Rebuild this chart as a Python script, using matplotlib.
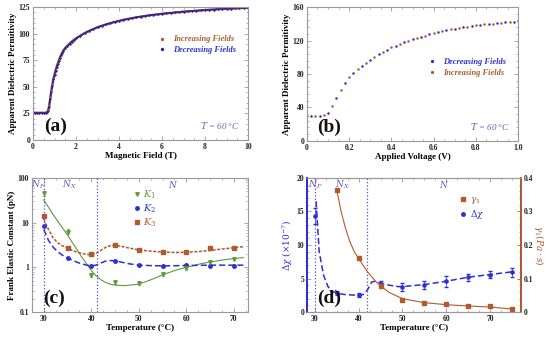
import numpy as np
import matplotlib
matplotlib.use("Agg")
import matplotlib.pyplot as plt
from matplotlib.ticker import AutoMinorLocator, LogLocator, NullFormatter

plt.rcParams['font.family'] = ['Liberation Serif', 'DejaVu Serif']
plt.rcParams['mathtext.fontset'] = 'dejavuserif'

BLUE = '#2f2fd0'
BROWN = '#b05a2e'
GREEN = '#5c9a3c'
PURPLE = '#6e55b8'
VLINE = '#5a4bc4'
GRAY = '#9a9a9a'

# (a) permittivity vs magnetic field
field_a = [0, 0.1, 0.2, 0.3, 0.4, 0.5, 0.6,
           0.65, 0.7, 0.75, 0.8, 0.85, 0.9, 0.95, 1.0, 1.05, 1.1, 1.15, 1.2, 1.25, 1.3, 1.35, 1.4,
           1.5, 1.6, 1.7, 1.8, 1.9, 2.0,
           2.2, 2.4, 2.6, 2.8, 3.0, 3.2, 3.4, 3.6, 3.8, 4.0, 4.2, 4.4, 4.6, 4.8, 5.0,
           5.2, 5.4, 5.6, 5.8, 6.0, 6.2, 6.4, 6.6, 6.8, 7.0, 7.2, 7.4, 7.6, 7.8, 8.0,
           8.2, 8.4, 8.6, 8.8, 9.0, 9.2, 9.4, 9.6, 9.8, 10.0]
eps_inc = [25.5, 25.5, 25.5, 25.5, 25.5, 25.5, 25.5,
           26, 28, 33, 40, 47, 53, 58, 62, 66, 69, 72, 75, 77.5, 80, 82, 84,
           86.5, 88.5, 90.5, 92.5, 94, 95.5,
           98, 100.5, 102.5, 104.3, 106, 107.4, 108.7, 109.9, 111, 112, 113, 113.8, 114.6, 115.3, 116,
           116.6, 117.2, 117.7, 118.2, 118.7, 119.1, 119.5, 119.9, 120.3, 120.7, 121, 121.3, 121.6, 121.9, 122.2,
           122.5, 122.7, 123.0, 123.2, 123.4, 123.6, 123.8, 124.0, 124.2, 124.4]
eps_dec = [25.5, 25.5, 25.5, 25.5, 25.5, 25.5, 25.5,
           25.8, 27, 31, 38, 45, 51, 57, 61, 65, 68.5, 71.5, 74.5, 77, 79.5, 81.5, 83.5,
           86.5, 88.5, 90.5, 92.5, 94, 95.5,
           98, 100.5, 102.5, 104.3, 106, 107.4, 108.7, 109.9, 111, 112, 113, 113.8, 114.6, 115.3, 116,
           116.6, 117.2, 117.7, 118.2, 118.7, 119.1, 119.5, 119.9, 120.3, 120.7, 121, 121.3, 121.6, 121.9, 122.2,
           122.5, 122.7, 123.0, 123.2, 123.4, 123.6, 123.8, 124.0, 124.2, 124.4]

# (b) permittivity vs applied voltage
volt_inc = [0.00, 0.04, 0.08, 0.12, 0.16, 0.20, 0.24, 0.28, 0.32, 0.36, 0.40, 0.44, 0.48,
            0.52, 0.56, 0.60, 0.64, 0.68, 0.72, 0.76, 0.80, 0.84, 0.88, 0.92, 0.96, 1.00]
perm_inc = [29.5, 30, 30.5, 42, 61, 76, 86, 93, 100, 106.5, 112, 116, 120,
            123, 126, 129, 131.2, 133.3, 135.1, 136.6, 138, 139.2, 140.3, 141.3, 142.1, 143]
volt_dec = [0.02, 0.06, 0.10, 0.14, 0.18, 0.22, 0.26, 0.30, 0.34, 0.38, 0.42, 0.46, 0.50,
            0.54, 0.58, 0.62, 0.66, 0.70, 0.74, 0.78, 0.82, 0.86, 0.90, 0.94, 0.98]
perm_dec = [30, 30, 33, 51, 69, 81, 89, 97, 103.5, 109, 114, 118, 121.5,
            124.5, 127.5, 130, 132.3, 134.3, 135.9, 137.3, 138.6, 139.8, 140.8, 141.7, 142.5]

# (c) Frank elastic constants
temp_c = [30, 35, 40, 45, 50, 55, 60, 65, 70]
k1 = [46, 6.3, 0.67, 0.46, 0.44, 0.72, 0.96, 1.3, 1.55]
k1_err = [6, 0.8, 0.06, 0.04, 0.03, 0.08, 0.1, 0.1, 0.1]
k2 = [8.5, 1.6, 1.1, 1.4, 1.15, 1.1, 1.12, 1.1, 1.08]
k3 = [14.4, 2.7, 1.95, 3.1, 2.45, 2.2, 2.2, 2.75, 2.7]

fit_t1 = [30, 31, 32, 33, 34, 35, 36, 37, 38, 39, 40, 41, 42, 43, 44, 45, 47, 50, 53, 55, 58, 60, 63, 65, 68, 70, 72]
k1_fit = [32, 22, 15, 10.5, 7.5, 5.3, 3.6, 2.5, 1.7, 1.2, 0.85, 0.65, 0.53, 0.46, 0.42, 0.40, 0.39, 0.42,
          0.55, 0.68, 0.88, 1.0, 1.2, 1.32, 1.48, 1.57, 1.65]
fit_t2 = [30, 31, 32, 33, 34, 35, 36, 37, 38, 39, 40, 41, 42, 43, 44, 45, 46, 48, 50, 53, 55, 58, 60, 63, 65, 68, 70, 72]
k2_fit = [7, 4, 2.8, 2.2, 1.85, 1.6, 1.45, 1.3, 1.2, 1.12, 1.08, 1.12, 1.25, 1.38, 1.42, 1.4, 1.33, 1.2,
          1.12, 1.09, 1.08, 1.09, 1.1, 1.11, 1.12, 1.12, 1.12, 1.12]
k3_fit = [12, 7, 4.5, 3.5, 3.0, 2.7, 2.4, 2.2, 2.05, 1.95, 1.92, 2.05, 2.4, 2.8, 3.05, 3.1, 3.0, 2.7,
          2.45, 2.28, 2.2, 2.15, 2.18, 2.27, 2.4, 2.6, 2.75, 2.9]

# (d) anisotropy and viscosity
temp_d = [30, 35, 40, 45, 50, 55, 60, 65, 70, 75]
dchi = [14.3, 2.9, 2.5, 4.2, 3.7, 4.1, 4.6, 5.2, 5.6, 5.9]
dchi_err = [1.2, 0.3, 0.3, 0.5, 0.6, 0.6, 0.8, 0.5, 0.5, 0.6]
temp_g = [35, 40, 45, 50, 55, 60, 65, 70, 75]
gamma1 = [0.365, 0.161, 0.078, 0.037, 0.028, 0.023, 0.019, 0.019, 0.009]

fit_td = [30.3, 31, 32, 33, 34, 35, 37, 40, 41, 42, 43, 44, 45, 47, 49, 50, 55, 60, 65, 70, 75]
dchi_fit = [16.5, 9, 5.5, 3.8, 3.1, 2.8, 2.6, 2.5, 2.6, 3.3, 4.5, 4.6, 4.3, 4.0, 3.8, 3.8, 4.1, 4.6, 5.2, 5.6, 6.0]
fit_tg = [35, 36, 37, 38, 39, 40, 42, 44, 45, 47, 50, 55, 60, 65, 70, 75]
gamma_fit = [0.365, 0.30, 0.25, 0.21, 0.18, 0.16, 0.12, 0.09, 0.078, 0.058, 0.04, 0.028, 0.022, 0.018, 0.015, 0.009]


def style(ax, log=False):
    for s in ax.spines.values():
        s.set_color(GRAY)
        s.set_linewidth(0.8)
    ax.tick_params(which='both', direction='in', top=True, right=True, colors=GRAY,
                   labelcolor='#222222', labelsize=5.5, pad=2)
    ax.tick_params(which='major', length=3, width=0.6)
    ax.tick_params(which='minor', length=1.6, width=0.5)
    ax.xaxis.set_minor_locator(AutoMinorLocator(4))
    if not log:
        ax.yaxis.set_minor_locator(AutoMinorLocator(5))
    for lb in ax.get_xticklabels() + ax.get_yticklabels():
        lb.set_fontweight('bold')


def letter(ax, s):
    ax.text(0.05, 0.04, s, transform=ax.transAxes, fontsize=14, fontweight='bold',
            ha='left', va='bottom', color='#111111')


lab = dict(fontsize=6.5, fontweight='bold', labelpad=1)

fig = plt.figure(figsize=(5.5, 3.37), dpi=100)

# ---- (a)
ax = fig.add_axes([0.060, 0.585, 0.391, 0.394])
ax.plot(field_a, eps_inc, '-', lw=1.6, color=BROWN, alpha=0.8)
ax.plot(field_a, eps_dec, '-', lw=1.3, color='#2a1f9a')
ax.plot(field_a, eps_inc, 'o', ms=1.6, color=BROWN, mew=0, label='Increasing Fields')
ax.plot(field_a, eps_dec, 'o', ms=1.6, color='#2a1f9a', mew=0, label='Decreasing Fields')
ax.set_xlim(0, 10)
ax.set_ylim(0, 125)
ax.set_xticks([0, 2, 4, 6, 8, 10])
ax.set_yticks([0, 25, 50, 75, 100, 125])
style(ax)
ax.set_xlabel('Magnetic Field (T)', **lab)
ax.set_ylabel('Apparent Dielectric Permitivity', **lab)
leg = ax.legend(loc='upper right', bbox_to_anchor=(0.97, 0.83), frameon=False, fontsize=6,
                handletextpad=0.3, markerscale=1.5, borderpad=0.2, labelspacing=0.3)
for t, c in zip(leg.get_texts(), [BROWN, BLUE]):
    t.set_color(c)
    t.set_fontstyle('italic')
    t.set_fontweight('bold')
ax.text(0.96, 0.07, r'$T$ = 60 °C', transform=ax.transAxes, fontsize=6.5, style='italic',
        color=PURPLE, ha='right', va='bottom')
letter(ax, '(a)')

# ---- (b)
ax = fig.add_axes([0.558, 0.582, 0.384, 0.397])
ax.plot(volt_dec, perm_dec, 'o', ms=1.8, color=BLUE, mew=0, label='Decreasing Fields')
ax.plot(volt_inc, perm_inc, 'o', ms=1.8, color=BROWN, mew=0, label='Increasing Fields')
ax.set_xlim(0, 1)
ax.set_ylim(0, 160)
ax.set_xticks([0, 0.2, 0.4, 0.6, 0.8, 1.0])
ax.set_xticklabels(['0', '0.2', '0.4', '0.6', '0.8', '1.0'])
ax.set_yticks([0, 40, 80, 120, 160])
style(ax)
ax.set_xlabel('Applied Voltage (V)', **lab)
ax.set_ylabel('Apparent Dielectric Permitivity', **lab)
leg = ax.legend(loc='upper right', bbox_to_anchor=(0.97, 0.66), frameon=False, fontsize=6,
                handletextpad=0.3, markerscale=1.3, borderpad=0.2, labelspacing=0.3)
for t, c in zip(leg.get_texts(), [BLUE, BROWN]):
    t.set_color(c)
    t.set_fontstyle('italic')
    t.set_fontweight('bold')
ax.text(0.96, 0.07, r'$T$ = 60 °C', transform=ax.transAxes, fontsize=6.5, style='italic',
        color=PURPLE, ha='right', va='bottom')
letter(ax, '(b)')

# ---- (c)
ax = fig.add_axes([0.058, 0.074, 0.393, 0.398])
ax.set_yscale('log')
ax.plot(fit_t1, k1_fit, '-', color=GREEN, lw=0.8)
ax.plot(fit_t2, k2_fit, '--', color=BLUE, lw=1.1, dashes=(4, 2))
ax.plot(fit_t2, k3_fit, '--', color=BROWN, lw=1.1, dashes=(2, 1))
e1 = ax.errorbar(temp_c, k1, yerr=k1_err, fmt='v', ms=2.5, color=GREEN, elinewidth=0.5, capsize=1)
m2 = ax.plot(temp_c, k2, 'o', ms=2.5, color=BLUE)[0]
m3 = ax.plot(temp_c, k3, 's', ms=2.5, color=BROWN)[0]
ax.axvline(30, color=VLINE, ls=':', lw=0.9)
ax.axvline(41.2, color=VLINE, ls=':', lw=0.9)
ax.set_xlim(27.5, 73)
ax.set_ylim(0.1, 100)
ax.set_xticks([30, 40, 50, 60, 70])
ax.yaxis.set_minor_locator(LogLocator(subs=np.arange(2, 10)))
ax.yaxis.set_minor_formatter(NullFormatter())
ax.set_yticks([0.1, 1, 10, 100])
ax.set_yticklabels(['0.1', '1', '10', '100'])
style(ax, log=True)
ax.set_xlabel('Temperature (°C)', **lab)
ax.set_ylabel('Frank Elastic Constant (pN)', **lab)
h1 = ax.plot([], [], 'v', ms=2.5, color=GREEN)[0]
leg = ax.legend(handles=[h1, m2, m3], labels=['$K_1$', '$K_2$', '$K_3$'],
                loc='upper left', bbox_to_anchor=(0.43, 0.97), frameon=False, fontsize=7,
                handletextpad=0.2, borderpad=0.2, labelspacing=0.15, handlelength=1.0)
for t, c in zip(leg.get_texts(), [GREEN, BLUE, BROWN]):
    t.set_color(c)
for name, xp in [('$N_F$', 28.9), ('$N_X$', 35.5), ('$N$', 57.2)]:
    ax.text(xp, 70, name, color=PURPLE, fontsize=6.5, ha='center', va='center')
letter(ax, '(c)')

# ---- (d)
ax = fig.add_axes([0.558, 0.074, 0.389, 0.398])
ax2 = ax.twinx()
ax.plot(fit_td, dchi_fit, '--', color=BLUE, lw=1.1, dashes=(4, 2))
ax.errorbar(temp_d, dchi, yerr=dchi_err, fmt='o', ms=2.3, color=BLUE, elinewidth=0.5, capsize=1.2)
ax2.plot(fit_tg, gamma_fit, '-', color=BROWN, lw=0.8)
ax2.plot(temp_g, gamma1, 's', ms=2.5, color=BROWN)
ax.axvline(30, color=VLINE, ls=':', lw=0.9)
ax.axvline(42, color=VLINE, ls=':', lw=0.9)
ax.set_xlim(28.2, 77)
ax.set_ylim(0, 20)
ax2.set_ylim(0, 0.4)
ax.set_xticks([30, 40, 50, 60, 70])
ax.set_yticks([0, 5, 10, 15, 20])
ax2.set_yticks([0, 0.1, 0.2, 0.3, 0.4])
ax2.set_yticklabels(['0', '0.1', '0.2', '0.3', '0.4'])
style(ax)
ax.tick_params(right=False, which='both')
ax2.tick_params(which='both', direction='in', colors=BROWN, labelcolor='#222222', labelsize=5.5, pad=2)
ax2.tick_params(which='major', length=3, width=0.6)
ax2.yaxis.set_minor_locator(AutoMinorLocator(5))
ax2.tick_params(which='minor', length=1.6, width=0.5)
for lb in ax2.get_yticklabels():
    lb.set_fontweight('bold')
for a in (ax, ax2):
    for s in a.spines.values():
        s.set_color(GRAY)
        s.set_linewidth(0.8)
    a.spines['left'].set_color(BLUE)
    a.spines['left'].set_linewidth(1.3)
    a.spines['right'].set_color(BROWN)
    a.spines['right'].set_linewidth(1.3)
ax.set_xlabel('Temperature (°C)', **lab)
ax.set_ylabel(r'$\Delta\chi\ (\times10^{-7})$', fontsize=6.5, color=BLUE, labelpad=1)
ax2.set_ylabel(r'$\gamma_1(Pa\cdot s)$', fontsize=6.5, color=BROWN, rotation=270, labelpad=9)
h1 = ax2.plot([], [], 's', ms=2.5, color=BROWN, label=r'$\gamma_1$')[0]
h2 = ax.plot([], [], 'o', ms=2.5, color=BLUE, label=r'$\Delta\chi$')[0]
leg = ax2.legend(handles=[h1, h2], loc='upper left', bbox_to_anchor=(0.68, 0.92), frameon=False,
                 fontsize=6.5, handletextpad=0.2, borderpad=0.2, labelspacing=0.2, handlelength=1.0)
for t, c in zip(leg.get_texts(), [BROWN, BLUE]):
    t.set_color(c)
for name, xp in [('$N_F$', 30.2), ('$N_X$', 36.2), ('$N$', 59.6)]:
    ax.text(xp, 19, name, color=PURPLE, fontsize=6.5, ha='center', va='center')
letter(ax, '(d)')

fig.savefig('out.png', dpi=100)
